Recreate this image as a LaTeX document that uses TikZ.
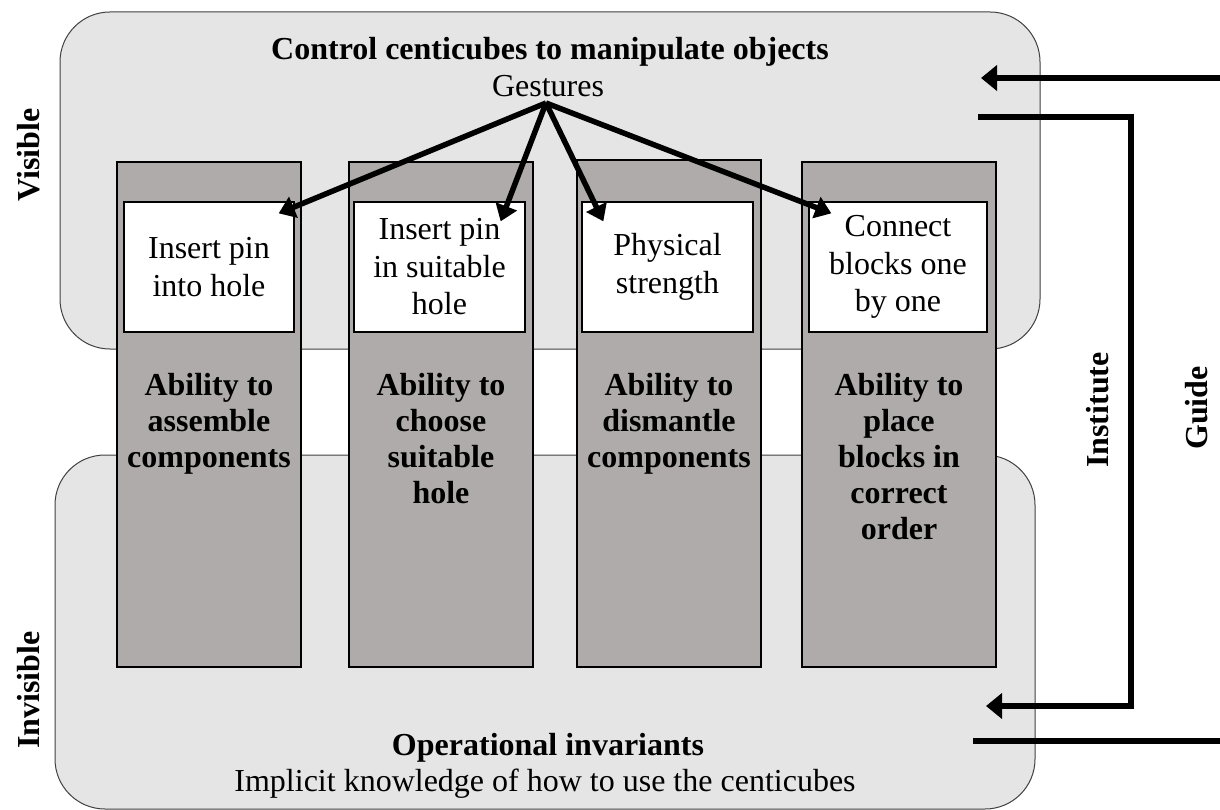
\documentclass[tikz,border=0pt]{standalone}
\usepackage{fontspec}
\setmainfont{Liberation Serif}
\usetikzlibrary{arrows.meta,calc}

\definecolor{panel}{RGB}{229,229,229}
\definecolor{pillar}{RGB}{175,171,171}

\begin{document}
\begin{tikzpicture}[x=1pt,y=-1pt,
  panelbox/.style={draw=black!75, line width=1pt, fill=panel, rounded corners=50pt, inner sep=0pt},
  pillarbox/.style={draw=black, line width=2pt, fill=pillar, inner sep=0pt, minimum height=505pt},
  skillbox/.style={draw=black, line width=1.3pt, fill=white, inner sep=0pt, minimum height=130pt,
    font=\fontsize{32}{37.5}\selectfont, align=center},
  txt/.style={font=\fontsize{32}{37}\selectfont, align=center, inner sep=0pt},
  btxt/.style={font=\fontsize{32}{36}\selectfont\bfseries, align=center, inner sep=0pt},
  gesture/.style={line width=5.5pt, -{Triangle[length=16pt,width=22pt]}},
  flow/.style={line width=6pt},
  flowtip/.style={flow, -{Triangle[length=16pt,width=25pt]}}
]
\useasboundingbox (0,0) rectangle (1220,810);

% visible and invisible panels
\node[panelbox, minimum width=980pt, minimum height=337pt] (top) at (550,180.5) {};
\node[panelbox, minimum width=980pt, minimum height=354pt] (bottom) at (545,632) {};

% four competence pillars
\node[pillarbox, minimum width=184pt] (p1) at (209,414.5) {};
\node[pillarbox, minimum width=184pt] (p2) at (441,414.5) {};
\node[pillarbox, minimum width=184pt, minimum height=507pt] (p3) at (669,413.5) {};
\node[pillarbox, minimum width=194pt] (p4) at (899,414.5) {};

% observable gestures
\node[skillbox, minimum width=170pt] (s1) at (209,267) {Insert pin\\into hole};
\node[skillbox, minimum width=171pt] (s2) at (439.5,267) {Insert pin\\in suitable\\hole};
\node[skillbox, minimum width=171pt] (s3) at (667.5,267) {Physical\\strength};
\node[skillbox, minimum width=178pt] (s4) at (898,267) {Connect\\blocks one\\by one};

% abilities
\node[btxt, anchor=north] (a1) at (209,373) {Ability to\\assemble\\components};
\node[btxt, anchor=north] (a2) at (441,373) {Ability to\\choose\\suitable\\hole};
\node[btxt, anchor=north] (a3) at (669,373) {Ability to\\dismantle\\components};
\node[btxt, anchor=north] (a4) at (899,373) {Ability to\\place\\blocks in\\correct\\order};

% headings
\node[btxt] (title) at (550,52) {Control centicubes to manipulate objects};
\node[txt] (gest) at (548,86) {Gestures};
\node[btxt] (oper) at (548,748) {Operational invariants};
\node[txt] (impl) at (545,784) {Implicit knowledge of how to use the centicubes};

% side labels
\node[btxt, rotate=90] (vis) at (29,155) {Visible};
\node[btxt, rotate=90] (invis) at (29,690) {Invisible};
\node[btxt, rotate=90] (inst) at (1098,410) {Institute};
\node[btxt, rotate=90] (guide) at (1197,408) {Guide};

% gestures fan out to the four boxes
\coordinate (g) at (546,103);
\draw[gesture] (g) -- ($(s1.north east)+(-16,12)$);
\draw[gesture] (g) -- ($(s2.north east)+(-25,20)$);
\draw[gesture] (g) -- ($(s3.north west)+(22,20)$);
\draw[gesture] (g) -- ($(s4.north west)+(23,12)$);

% guide and institute loops on the right
\coordinate (gin) at (1220,78);
\coordinate (gtip) at (981,78);
\coordinate (istart) at (978,117);
\coordinate (icorner1) at (1131,117);
\coordinate (icorner2) at (1131,706);
\coordinate (itip) at (986,706);
\coordinate (ostart) at (973,741);
\coordinate (oend) at (1220,741);
\draw[flowtip] (gin) -- (gtip);
\draw[flowtip] (istart) -- (icorner1) -- (icorner2) -- (itip);
\draw[flow] (ostart) -- (oend);
\end{tikzpicture}
\end{document}
